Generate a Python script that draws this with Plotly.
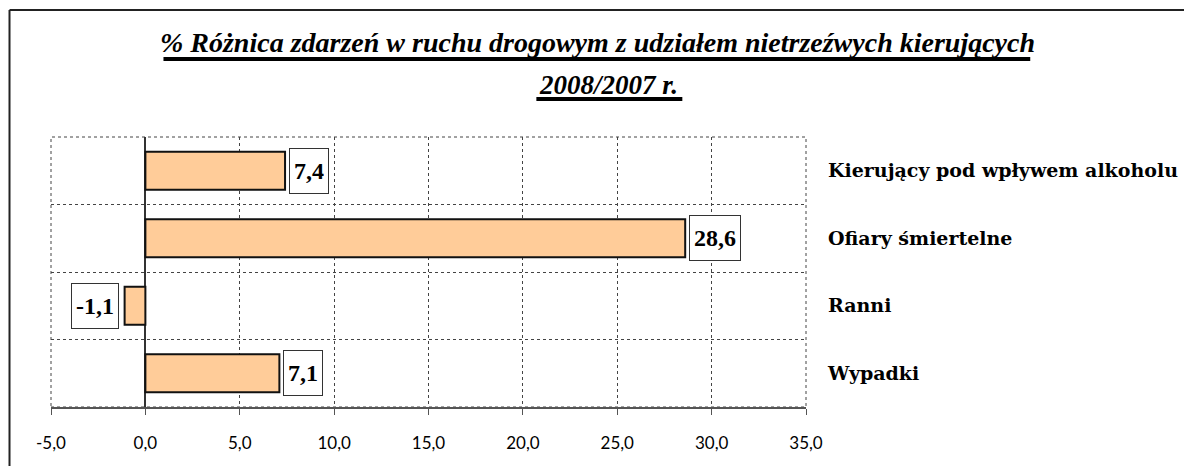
import plotly.graph_objects as go

# ---- data (bottom to top) ----
categories = ["Wypadki", "Ranni", "Ofiary śmiertelne", "Kierujący pod wpływem alkoholu"]
values = [7.1, -1.1, 28.6, 7.4]
x_tickvals = [-5, 0, 5, 10, 15, 20, 25, 30, 35]
x_ticktext = ["-5,0", "0,0", "5,0", "10,0", "15,0", "20,0", "25,0", "30,0", "35,0"]
title_line1 = "% Różnica zdarzeń w ruchu drogowym z udziałem nietrzeźwych kierujących"
title_line2 = "2008/2007 r."

# page body has an 8px margin -> figure sized to fit the window
W, H = 1184, 458
ML, MT = 42.5, 129
PLOT_R, PLOT_B = 797.7, 399
MR, MB = W - PLOT_R, H - PLOT_B
PW, PH = PLOT_R - ML, PLOT_B - MT


def px(x):
    return (x - ML) / PW


def py(y):
    return (PLOT_B - y) / PH


fig = go.Figure()
fig.add_trace(go.Bar(
    x=values, y=categories, orientation="h",
    marker=dict(color="#FFCC99", line=dict(color="#111111", width=2)),
    hoverinfo="skip",
))

annotations = []
for c, v in zip(categories, values):
    txt = f"{v:.1f}".replace(".", ",")
    annotations.append(dict(
        x=v, y=c, xref="x", yref="y", text=txt, showarrow=False,
        xanchor="left" if v >= 0 else "right",
        xshift=4 if v >= 0 else -6,
        font=dict(family="Liberation Serif", size=24, color="#000000", weight="bold"),
        bgcolor="#FFFFFF", bordercolor="#333333", borderwidth=1, borderpad=4, height=36,
    ))

annotations.append(dict(
    x=px(600.5), y=py(77), xref="paper", yref="paper", showarrow=False,
    xanchor="center", yanchor="middle",
    text=f"<b><i>{title_line2}</i></b>",
    font=dict(family="Liberation Serif", size=27, color="#000000"),
))

fig.update_layout(
    width=W, height=H,
    margin=dict(l=ML, r=MR, t=MT, b=MB),
    paper_bgcolor="#FFFFFF", plot_bgcolor="#FFFFFF",
    showlegend=False,
    bargap=0.44,
    title=dict(
        text=f"<b><i>{title_line1}</i></b>",
        x=589.5 / W, xref="container", xanchor="center",
        y=1 - 24 / H, yref="container", yanchor="top",
        font=dict(family="Liberation Serif", size=28, color="#000000"),
    ),
    xaxis=dict(
        range=[-5, 35], tickvals=x_tickvals, ticktext=x_ticktext,
        showgrid=True, gridcolor="#444444", griddash="dot", gridwidth=1,
        zeroline=True, zerolinecolor="#333333", zerolinewidth=1.5,
        showline=True, linecolor="#555555", linewidth=1.5,
        ticks="outside", ticklen=6, tickcolor="#555555",
        ticklabelstandoff=14,
        tickfont=dict(family="Lato", size=17, color="#000000"),
        fixedrange=True,
    ),
    yaxis=dict(
        type="category", categoryorder="array", categoryarray=categories,
        side="right", tickson="boundaries",
        showgrid=True, gridcolor="#444444", griddash="dot", gridwidth=1,
        zeroline=False, showline=False, ticks="",
        ticklabelstandoff=21,
        tickfont=dict(family="DejaVu Serif", size=19, color="#000000", weight="bold"),
        fixedrange=True,
    ),
    annotations=annotations,
    shapes=[
        dict(type="rect", xref="paper", yref="paper",
             x0=0, x1=1, y0=0, y1=1,
             line=dict(color="#444444", width=1, dash="dot"), layer="below"),
        # outer frame (only left and top edges are inside the window)
        dict(type="line", xref="paper", yref="paper",
             x0=px(1), x1=px(W + 40), y0=py(2), y1=py(2),
             line=dict(color="#222222", width=2)),
        dict(type="line", xref="paper", yref="paper",
             x0=px(1), x1=px(1), y0=py(2), y1=py(H + 40),
             line=dict(color="#222222", width=2)),
        # title underlines
        dict(type="line", xref="paper", yref="paper",
             x0=px(155), x1=px(1022), y0=py(51), y1=py(51),
             line=dict(color="#000000", width=4)),
        dict(type="line", xref="paper", yref="paper",
             x0=px(528), x1=px(674), y0=py(91), y1=py(91),
             line=dict(color="#000000", width=4)),
    ],
)

fig.write_html("out.html")
